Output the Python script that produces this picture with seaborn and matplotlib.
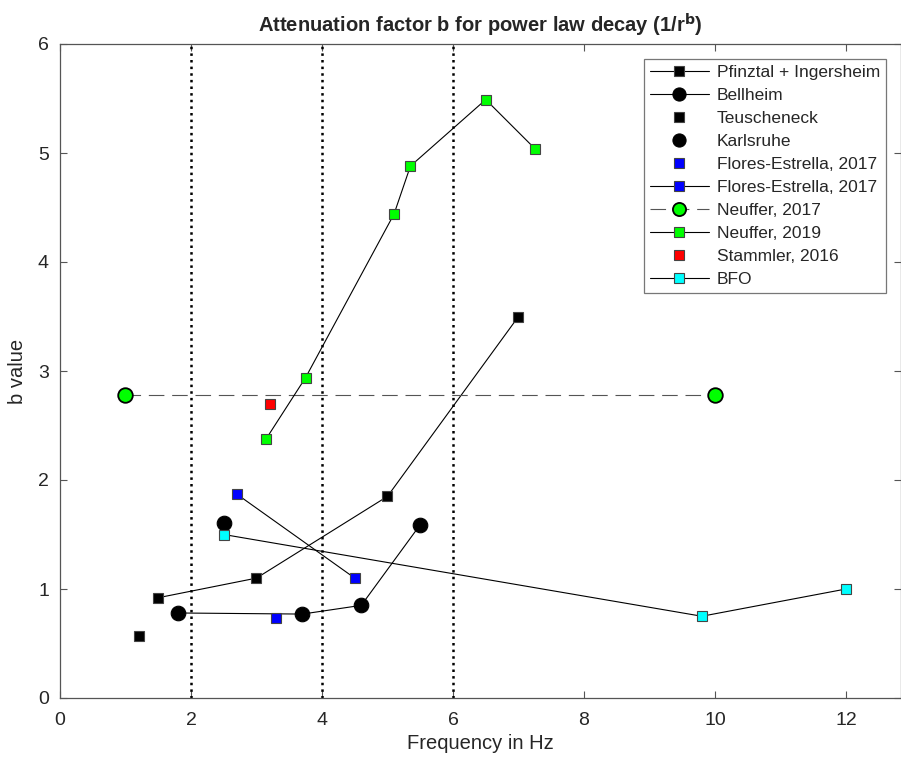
import matplotlib
matplotlib.use("Agg")
import matplotlib.pyplot as plt
import seaborn as sns

# data
pfinz_f = [1.5, 3.0, 5.0, 7.0]
pfinz_b = [0.92, 1.10, 1.85, 3.50]
bell_f = [1.8, 3.7, 4.6, 5.5]
bell_b = [0.78, 0.77, 0.85, 1.59]
teus_f = [1.2]
teus_b = [0.57]
karl_f = [2.5]
karl_b = [1.61]
flores1_f = [3.3]
flores1_b = [0.73]
flores2_f = [2.7, 4.5]
flores2_b = [1.87, 1.10]
neuf17_f = [1.0, 10.0]
neuf17_b = [2.78, 2.78]
neuf19_f = [3.15, 3.75, 5.1, 5.35, 6.5, 7.25]
neuf19_b = [2.38, 2.94, 4.44, 4.88, 5.49, 5.04]
stam_f = [3.2]
stam_b = [2.70]
bfo_f = [2.5, 9.8, 12.0]
bfo_b = [1.50, 0.75, 1.00]
vlines = [2, 4, 6]

sns.set_style("white")
plt.rcParams["font.family"] = ["Liberation Sans", "DejaVu Sans"]

fig = plt.figure(figsize=(9.01, 7.62), dpi=100)
ax = fig.add_axes([60 / 901, 64 / 762, 841 / 901, 654 / 762])

for x in vlines:
    ax.axvline(x, color="black", linestyle=":", linewidth=1.8, zorder=1)

sq = dict(marker="s", markersize=7.5, markeredgecolor="#444444", markeredgewidth=0.8)
ci = dict(marker="o", markersize=10.5, markeredgecolor="black", markeredgewidth=0.8)

sns.lineplot(x=pfinz_f, y=pfinz_b, ax=ax, color="black", linewidth=0.8, sort=False,
             markerfacecolor="black", label="Pfinztal + Ingersheim", **sq)
sns.lineplot(x=bell_f, y=bell_b, ax=ax, color="black", linewidth=0.8, sort=False,
             markerfacecolor="black", label="Bellheim", **ci)
sns.lineplot(x=teus_f, y=teus_b, ax=ax, color="black", linestyle="none", sort=False,
             markerfacecolor="black", label="Teuscheneck", **sq)
sns.lineplot(x=karl_f, y=karl_b, ax=ax, color="black", linestyle="none", sort=False,
             markerfacecolor="black", label="Karlsruhe", **ci)
sns.lineplot(x=flores1_f, y=flores1_b, ax=ax, color="black", linestyle="none", sort=False,
             markerfacecolor="#0000ff", label="Flores-Estrella, 2017", **sq)
sns.lineplot(x=flores2_f, y=flores2_b, ax=ax, color="black", linewidth=0.8, sort=False,
             markerfacecolor="#0000ff", label="Flores-Estrella, 2017", **sq)
sns.lineplot(x=neuf17_f, y=neuf17_b, ax=ax, color="#555555", linewidth=0.8, sort=False,
             linestyle=(0, (14, 7)), markerfacecolor="#00ff00", marker="o", markersize=10.5,
             markeredgecolor="black", markeredgewidth=1.3, label="Neuffer, 2017")
sns.lineplot(x=neuf19_f, y=neuf19_b, ax=ax, color="black", linewidth=0.8, sort=False,
             markerfacecolor="#00ff00", label="Neuffer, 2019", **sq)
sns.lineplot(x=stam_f, y=stam_b, ax=ax, color="black", linestyle="none", sort=False,
             markerfacecolor="#ff0000", label="Stammler, 2016", **sq)
sns.lineplot(x=bfo_f, y=bfo_b, ax=ax, color="black", linewidth=0.8, sort=False,
             markerfacecolor="#00ffff", label="BFO", **sq)

ax.set_xlim(0, 12.84)
ax.set_ylim(0, 6)
ax.set_xticks(range(0, 13, 2))
ax.set_yticks(range(0, 7))
for s in ax.spines.values():
    s.set_color("#555555")
    s.set_linewidth(0.9)
ax.tick_params(direction="in", length=5, width=0.8, color="#555555",
               labelsize=14, labelcolor="#262626", top=True, right=True,
               bottom=True, left=True, pad=8)
ax.tick_params(axis="x", pad=10)

ax.set_xlabel("Frequency in Hz", fontsize=14.5, color="#262626", labelpad=4)
ax.set_ylabel("b value", fontsize=14.5, color="#262626", labelpad=8)
ax.set_title("Attenuation factor b for power law decay (1/r$^{\\mathbf{b}}$)",
             fontsize=14.5, fontweight="bold", pad=8)

leg = ax.legend(loc="upper right", bbox_to_anchor=(0.982, 0.977), fontsize=12.5,
                frameon=True, fancybox=False, borderpad=0.35, labelspacing=0.45,
                handlelength=3.4, handletextpad=0.45, borderaxespad=0,
                markerscale=0.9)
leg.get_frame().set_edgecolor("#555555")
leg.get_frame().set_linewidth(0.9)

fig.savefig("out.png", dpi=100)
